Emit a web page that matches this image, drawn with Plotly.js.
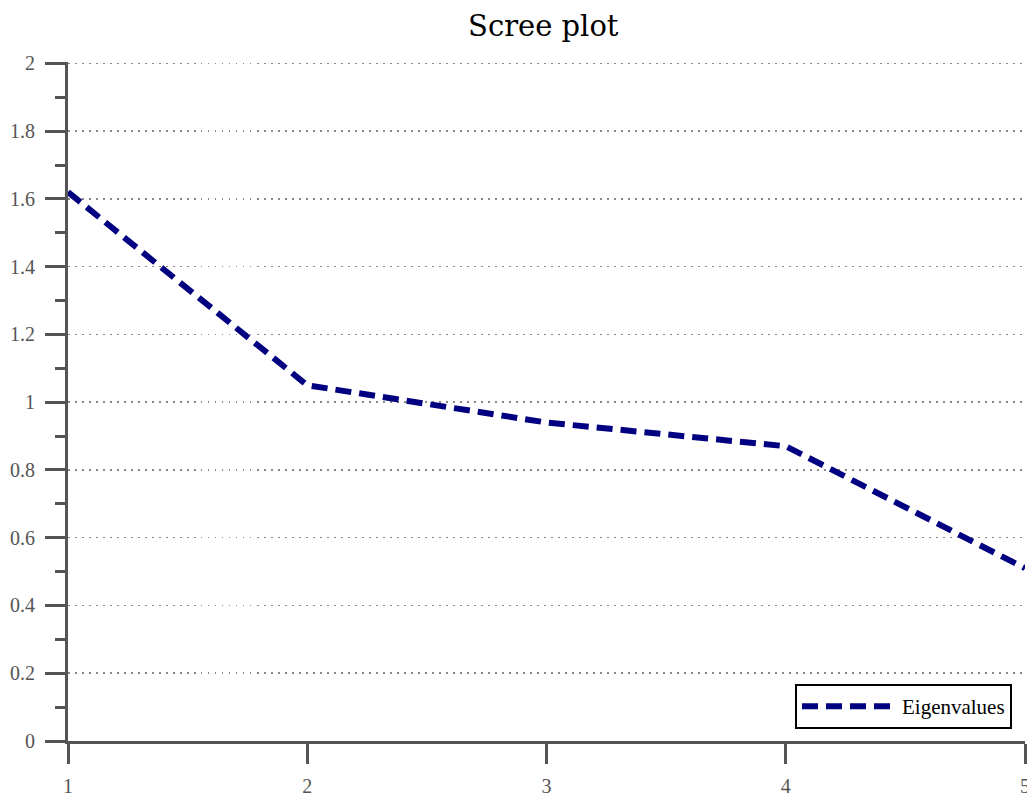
<!DOCTYPE html>
<html>
<head>
<meta charset="utf-8">
<script src="https://cdn.plot.ly/plotly-3.0.1.min.js"></script>
<style>html,body{margin:0;padding:0;background:#fff;}#chart{width:1027px;height:800px;}</style>
</head>
<body>
<div id="chart"></div>
<script>
const components = [1, 2, 3, 4, 5];
const eigenvalues = [1.62, 1.05, 0.94, 0.87, 0.51];
const seriesName = "Eigenvalues";
const yTicks = [0, 0.2, 0.4, 0.6, 0.8, 1, 1.2, 1.4, 1.6, 1.8, 2];
const yTickLabels = ["0", "0.2", "0.4", "0.6", "0.8", "1", "1.2", "1.4", "1.6", "1.8", "2"];

const trace = {
  x: components,
  y: eigenvalues,
  type: "scatter",
  mode: "lines",
  name: seriesName,
  line: {color: "#000080", width: 6, dash: "16px,8px"}
};

const axisFont = {family: "Liberation Serif, DejaVu Serif, serif", size: 20, color: "#555"};

const layout = {
  width: 1027,
  height: 800,
  margin: {l: 68, r: 2, t: 62, b: 59},
  paper_bgcolor: "#fff",
  plot_bgcolor: "#fff",
  title: {
    text: "Scree plot",
    font: {family: "DejaVu Serif, Liberation Serif, serif", size: 29, color: "#000"},
    x: 0.529, xanchor: "center", y: 0.968, yanchor: "middle"
  },
  showlegend: true,
  legend: {
    x: 0.9864, xanchor: "right", y: 0.0177, yanchor: "bottom",
    bgcolor: "#fff", bordercolor: "#000", borderwidth: 2,
    itemwidth: 95,
    font: {family: "Liberation Serif, DejaVu Serif, serif", size: 21, color: "#000"}
  },
  xaxis: {
    range: [1, 5],
    tickmode: "array",
    tickvals: components,
    ticktext: components.map(String),
    ticks: "outside", ticklen: 20, tickwidth: 3, tickcolor: "#555",
    ticklabelstandoff: 5,
    ticklabeloverflow: "allow",
    showline: true, linecolor: "#555", linewidth: 3,
    showgrid: false, zeroline: false,
    tickfont: axisFont
  },
  yaxis: {
    range: [0, 2.004],
    tickmode: "array",
    tickvals: yTicks,
    ticktext: yTickLabels,
    ticks: "outside", ticklen: 20, tickwidth: 3, tickcolor: "#555",
    ticklabelstandoff: 6,
    showline: true, linecolor: "#555", linewidth: 3,
    showgrid: true, gridcolor: "#888", gridwidth: 1.5, griddash: "1.5px,5.5px",
    zeroline: false,
    tickfont: axisFont,
    minor: {dtick: 0.1, ticks: "outside", ticklen: 10, tickwidth: 3, tickcolor: "#555", showgrid: false}
  }
};

Plotly.newPlot("chart", [trace], layout, {displayModeBar: false, staticPlot: true});
</script>
</body>
</html>
